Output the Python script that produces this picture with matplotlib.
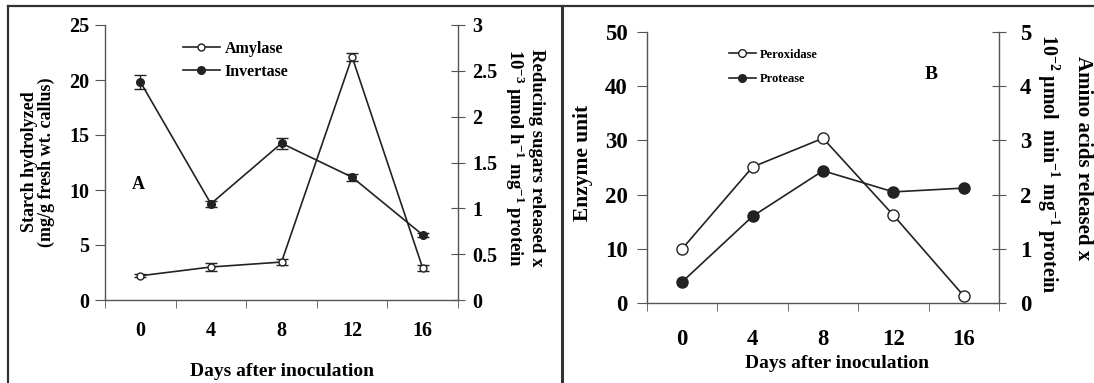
import numpy as np
import matplotlib.pyplot as plt
from matplotlib.lines import Line2D

plt.rcParams['font.family'] = ['Liberation Serif', 'DejaVu Serif']
plt.rcParams['font.weight'] = 'bold'
plt.rcParams['mathtext.fontset'] = 'custom'
plt.rcParams['mathtext.rm'] = 'Liberation Serif:bold'
plt.rcParams['mathtext.bf'] = 'Liberation Serif:bold'
plt.rcParams['mathtext.it'] = 'Liberation Serif:bold'

# data
days = [0, 4, 8, 12, 16]

# panel A
amylase = [2.2, 3.0, 3.45, 22.1, 2.9]          # starch hydrolyzed (left)
amylase_err = [0.15, 0.4, 0.25, 0.4, 0.3]
invertase = [2.38, 1.05, 1.71, 1.34, 0.71]     # reducing sugars (right)
invertase_err = [0.08, 0.03, 0.06, 0.04, 0.02]

# panel B
peroxidase = [10.0, 25.1, 30.4, 16.2, 1.3]     # enzyme unit (left)
protease = [0.39, 1.6, 2.44, 2.05, 2.12]       # amino acids released (right)

W, H = 1094, 383
fig = plt.figure(figsize=(W / 100, H / 100), dpi=100)

SPINE = '#555555'
LINE = '#222222'


def box(l, t, r, b):
    return [l / W, 1 - b / H, (r - l) / W, (b - t) / H]


def style_axes(ax, ax2, ylim, yticks, ylim2, yticks2, tsize, lpad, rpad, xpad):
    x = np.arange(len(days))
    ax.set_xlim(-0.5, len(days) - 0.5)
    ax.set_xticks(x)
    ax.set_xticklabels([str(d) for d in days])
    ax.set_xticks(np.arange(-0.5, len(days)), minor=True)
    ax.tick_params(axis='x', which='major', length=0, pad=xpad, labelsize=tsize)
    ax.tick_params(axis='x', which='minor', length=6, direction='out', color=SPINE)
    ax.set_ylim(*ylim)
    ax.set_yticks(yticks)
    ax.tick_params(axis='y', length=7, direction='out', color=SPINE, pad=lpad, labelsize=tsize)
    ax2.set_ylim(*ylim2)
    ax2.set_yticks(yticks2)
    ax2.set_yticklabels(['{:g}'.format(v) for v in yticks2])
    ax2.tick_params(axis='y', length=10, direction='inout', color=SPINE, pad=rpad, labelsize=tsize)
    for a in (ax, ax2):
        a.spines['top'].set_visible(False)
        a.patch.set_visible(False)
        for s in a.spines.values():
            s.set_color(SPINE)
            s.set_linewidth(1.0)
    ax.spines['right'].set_visible(False)
    ax2.spines['left'].set_visible(False)
    ax2.spines['bottom'].set_visible(False)


# ---------------- panel A ----------------
axA = fig.add_axes(box(105, 25, 458, 300))
axA2 = axA.twinx()
style_axes(axA, axA2, (0, 25), range(0, 26, 5), (0, 3), np.arange(0, 3.01, 0.5),
           14.5, 4, 5, 15)
x = np.arange(len(days))
axA.errorbar(x, amylase, yerr=amylase_err, color=LINE, lw=1.2, marker='o', ms=5,
             mfc='white', mec=LINE, mew=1, capsize=4, elinewidth=1)
axA2.errorbar(x, invertase, yerr=invertase_err, color=LINE, lw=1.2, marker='o', ms=5.5,
              mfc=LINE, mec=LINE, capsize=4, elinewidth=1)
axA.text(0.075, 0.42, 'A', transform=axA.transAxes, fontsize=13, fontweight='bold',
         va='center')
hA = [Line2D([], [], color=LINE, lw=1.2, marker='o', ms=5, mfc='white', mec=LINE),
      Line2D([], [], color=LINE, lw=1.2, marker='o', ms=5.5, mfc=LINE, mec=LINE)]
axA.legend(hA, ['Amylase', 'Invertase'], loc='upper left', bbox_to_anchor=(0.18, 0.995),
           frameon=False, handlelength=2.3, handletextpad=0.3,
           labelspacing=0.45, prop={'weight': 'bold', 'size': 11.5})
fig.text(38 / W, 1 - 162 / H, 'Starch hydrolyzed\n(mg/g fresh wt. callus)', rotation=90,
         ha='center', va='center', fontsize=13, fontweight='bold', linespacing=1.05)
fig.text(537 / W, 1 - 158 / H, 'Reducing sugars released x', rotation=270,
         ha='center', va='center', fontsize=13.5, fontweight='bold')
fig.text(515 / W, 1 - 158 / H, r'10$^{-3}$ µmol h$^{-1}$ mg$^{-1}$ protein', rotation=270,
         ha='center', va='center', fontsize=13.5, fontweight='bold')
fig.text(282 / W, 1 - 372 / H, 'Days after inoculation', ha='center', va='center',
         fontsize=14, fontweight='bold')

# ---------------- panel B ----------------
axB = fig.add_axes(box(647, 32, 999, 303))
axB2 = axB.twinx()
style_axes(axB, axB2, (0, 50), range(0, 51, 10), (0, 5), np.arange(0, 5.01, 1),
           16.5, 7, 10, 19)
axB.plot(x, peroxidase, color=LINE, lw=1.2, marker='o', ms=8, mfc='white', mec=LINE, mew=1)
axB2.plot(x, protease, color=LINE, lw=1.2, marker='o', ms=8, mfc=LINE, mec=LINE)
axB.text(0.79, 0.845, 'B', transform=axB.transAxes, fontsize=14, fontweight='bold',
         va='center')
hB = [Line2D([], [], color=LINE, lw=1.2, marker='o', ms=5.5, mfc='white', mec=LINE),
      Line2D([], [], color=LINE, lw=1.2, marker='o', ms=5.5, mfc=LINE, mec=LINE)]
axB.legend(hB, ['Peroxidase', 'Protease'], loc='upper left', bbox_to_anchor=(0.2, 0.98),
           frameon=False, handlelength=2.2, handletextpad=0.3, labelspacing=1.0,
           prop={'weight': 'bold', 'size': 9})
fig.text(583 / W, 1 - 163 / H, 'Enzyme unit', rotation=90, ha='center', va='center',
         fontsize=15.5, fontweight='bold')
fig.text(1048 / W, 1 - 164 / H, r'10$^{-2}$ µmol  min$^{-1}$ mg$^{-1}$ protein', rotation=270,
         ha='center', va='center', fontsize=14.4, fontweight='bold')
fig.text(1083 / W, 1 - 158 / H, 'Amino acids released x', rotation=270,
         ha='center', va='center', fontsize=15, fontweight='bold')
fig.text(837 / W, 1 - 363 / H, 'Days after inoculation', ha='center', va='center',
         fontsize=14, fontweight='bold')

# outer frame lines
FR = '#333333'
fig.add_artist(Line2D([8 / W, 1], [1 - 6 / H, 1 - 6 / H], color=FR, lw=1.6))
fig.add_artist(Line2D([8 / W, 8 / W], [0, 1 - 6 / H], color=FR, lw=1.6))
fig.add_artist(Line2D([562 / W, 562 / W], [0, 1 - 6 / H], color=FR, lw=2.2))

fig.savefig('out.png', dpi=100)
